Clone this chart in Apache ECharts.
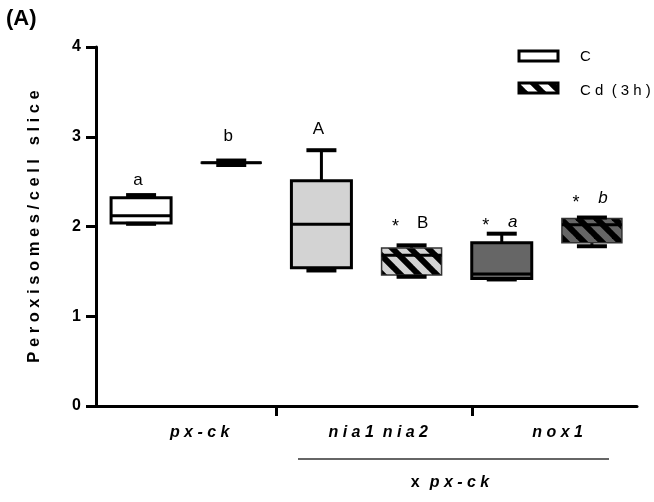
<!DOCTYPE html>
<html>
<head>
<meta charset="utf-8">
<script src="https://cdn.jsdelivr.net/npm/echarts@6/dist/echarts.min.js"></script>
<style>html,body{margin:0;padding:0;background:#fff}#c{width:654px;height:502px}</style>
</head>
<body>
<div id="c"></div>
<script>
// ---- data ----
const boxLabels = ['px-ck C', 'px-ck Cd', 'nia1 nia2 C', 'nia1 nia2 Cd', 'nox1 C', 'nox1 Cd'];
const boxMin    = [2.03, 2.685, 1.51, 1.44, 1.41, 1.78];
const boxQ1     = [2.04, 2.705, 1.54, 1.46, 1.42, 1.82];
const boxMedian = [2.12, 2.71,  2.025, 1.68, 1.47, 2.02];
const boxQ3     = [2.32, 2.715, 2.51, 1.76, 1.82, 2.09];
const boxMax    = [2.35, 2.735, 2.85, 1.79, 1.92, 2.10];
const treatment = ['C', 'Cd', 'C', 'Cd', 'C', 'Cd'];
const groupFill = ['#ffffff', '#ffffff', '#d3d3d3', '#d3d3d3', '#666666', '#666666'];
const sigLetter = ['a', 'b', 'A', 'B', 'a', 'b'];
const sigY      = [2.52, 3.01, 3.08, 2.04, 2.05, 2.31];
const sigStar   = [false, false, false, true, true, true];
const sigItalic = [false, false, false, false, true, true];
const groupNames = ['p x - c k', 'n i a 1  n i a 2', 'n o x 1'];
const groupLabelPos = [1.15, 3.13, 5.12];
const groupTickPos = [2, 4.17];
const yTicks = [0, 1, 2, 3, 4];

function hatch(fill) {
  const s = 18;
  const cv = document.createElement('canvas');
  cv.width = s; cv.height = s;
  const ctx = cv.getContext('2d');
  ctx.fillStyle = fill; ctx.fillRect(0, 0, s, s);
  ctx.strokeStyle = '#000'; ctx.lineWidth = 6;
  for (const k of [-s, 0, s]) {
    ctx.beginPath(); ctx.moveTo(k - 2, -2); ctx.lineTo(k + s + 2, s + 2); ctx.stroke();
  }
  return cv;
}
const patterns = {};
function fillFor(i) {
  if (treatment[i] === 'C') return groupFill[i];
  const f = groupFill[i];
  if (!patterns[f]) patterns[f] = hatch(f);
  return { image: patterns[f], repeat: 'repeat' };
}

const boxData = boxLabels.map((_, i) => [i + 0.5, boxMin[i], boxQ1[i], boxMedian[i], boxQ3[i], boxMax[i], i]);
const sigData = boxLabels.map((_, i) => [i + 0.5, sigY[i], i]);

const chart = echarts.init(document.getElementById('c'), null, { renderer: 'canvas' });
const FONT = 'Liberation Sans, Arial, sans-serif';

chart.setOption({
  animation: false,
  grid: { left: 96, right: 17, top: 47, bottom: 96 },
  xAxis: {
    type: 'value', min: 0, max: 6,
    splitLine: { show: false },
    axisLine: { show: true, onZero: false, lineStyle: { color: '#000', width: 3 } },
    axisTick: { show: true, customValues: groupTickPos, length: 10, lineStyle: { color: '#000', width: 3 } },
    axisLabel: {
      show: true, customValues: groupLabelPos, margin: 19,
      formatter: v => { const k = groupLabelPos.findIndex(p => Math.abs(p - v) < 1e-6); return k >= 0 ? groupNames[k] : ''; },
      color: '#000', fontFamily: FONT, fontSize: 16, fontWeight: 'bold', fontStyle: 'italic'
    }
  },
  yAxis: {
    type: 'value', min: 0, max: 4, interval: 1,
    name: 'P e r o x i s o m e s / c e l l   s l i c e',
    nameLocation: 'middle', nameRotate: 90, nameGap: 53,
    nameTextStyle: { color: '#000', fontFamily: FONT, fontSize: 16.5, fontWeight: 'bold' },
    splitLine: { show: false },
    axisLine: { show: true, lineStyle: { color: '#000', width: 3 } },
    axisTick: { show: true, length: 10, lineStyle: { color: '#000', width: 3 } },
    axisLabel: { margin: 15, color: '#000', fontFamily: FONT, fontSize: 16, fontWeight: 'bold',
      formatter: v => yTicks.includes(v) ? String(v) : '' }
  },
  series: [{
    type: 'custom',
    data: boxData,
    clip: false,
    renderItem: (params, api) => {
      const i = api.value(6);
      const x = api.value(0);
      const pMin = api.coord([x, api.value(1)]);
      const pQ1 = api.coord([x, api.value(2)]);
      const pMed = api.coord([x, api.value(3)]);
      const pQ3 = api.coord([x, api.value(4)]);
      const pMax = api.coord([x, api.value(5)]);
      const cx = pMed[0];
      const hw = 30, cw = 15;
      const isC = treatment[i] === 'C';
      const children = [];
      children.push({ type: 'line', shape: { x1: cx, y1: pQ3[1], x2: cx, y2: pMax[1] }, style: { stroke: '#000', lineWidth: 3 } });
      children.push({ type: 'line', shape: { x1: cx, y1: pQ1[1], x2: cx, y2: pMin[1] }, style: { stroke: '#000', lineWidth: 3 } });
      children.push({ type: 'rect', shape: { x: cx - hw, y: pQ3[1], width: hw * 2, height: Math.max(pQ1[1] - pQ3[1], 0.5) },
        style: { fill: fillFor(i), stroke: isC ? '#000' : '#333', lineWidth: isC ? 3 : 1.5 } });
      children.push({ type: 'line', shape: { x1: cx - hw, y1: pMed[1], x2: cx + hw, y2: pMed[1] }, style: { stroke: '#000', lineWidth: 3 } });
      children.push({ type: 'line', shape: { x1: cx - cw, y1: pMax[1], x2: cx + cw, y2: pMax[1] }, style: { stroke: '#000', lineWidth: 4 } });
      children.push({ type: 'line', shape: { x1: cx - cw, y1: pMin[1], x2: cx + cw, y2: pMin[1] }, style: { stroke: '#000', lineWidth: 4 } });
      return { type: 'group', children };
    }
  }, {
    type: 'custom',
    data: sigData,
    clip: false,
    renderItem: (params, api) => {
      const i = api.value(2);
      const p = api.coord([api.value(0), api.value(1)]);
      const children = [];
      const dx = sigStar[i] ? 11 : -3;
      children.push({ type: 'text', x: p[0] + dx, y: p[1],
        style: { text: sigLetter[i], fill: '#000', font: (sigItalic[i] ? 'italic ' : '') + '17px ' + FONT, align: 'center', verticalAlign: 'middle' } });
      if (sigStar[i]) {
        children.push({ type: 'text', x: p[0] - 16, y: p[1] + 4,
          style: { text: '*', fill: '#000', font: '18px ' + FONT, align: 'center', verticalAlign: 'middle' } });
      }
      return { type: 'group', children };
    }
  }],
  graphic: [
    { type: 'text', left: 6, top: 8, style: { text: '(A)', fill: '#000', font: 'bold 22px ' + FONT } },
    { type: 'rect', shape: { x: 519, y: 51, width: 39, height: 10 }, style: { fill: '#fff', stroke: '#000', lineWidth: 3 } },
    { type: 'text', x: 580, y: 57, style: { text: 'C', fill: '#000', font: '15px ' + FONT, verticalAlign: 'middle' } },
    { type: 'rect', shape: { x: 519, y: 83, width: 39, height: 10 }, style: { fill: { image: hatch('#ffffff'), repeat: 'repeat' }, stroke: '#000', lineWidth: 3 } },
    { type: 'text', x: 580, y: 91, style: { text: 'C d  ( 3 h )', fill: '#000', font: '15px ' + FONT, verticalAlign: 'middle' } },
    { type: 'line', shape: { x1: 298, y1: 459, x2: 609, y2: 459 }, style: { stroke: '#333', lineWidth: 1.5 } },
    { type: 'text', x: 450, y: 483, style: {
      text: '{n|x}   {i|p x - c k}', align: 'center', verticalAlign: 'middle',
      rich: { n: { fontFamily: FONT, fontSize: 16, fontWeight: 'bold', fill: '#000' },
              i: { fontFamily: FONT, fontSize: 16, fontWeight: 'bold', fontStyle: 'italic', fill: '#000' } } } }
  ]
});
</script>
</body>
</html>
